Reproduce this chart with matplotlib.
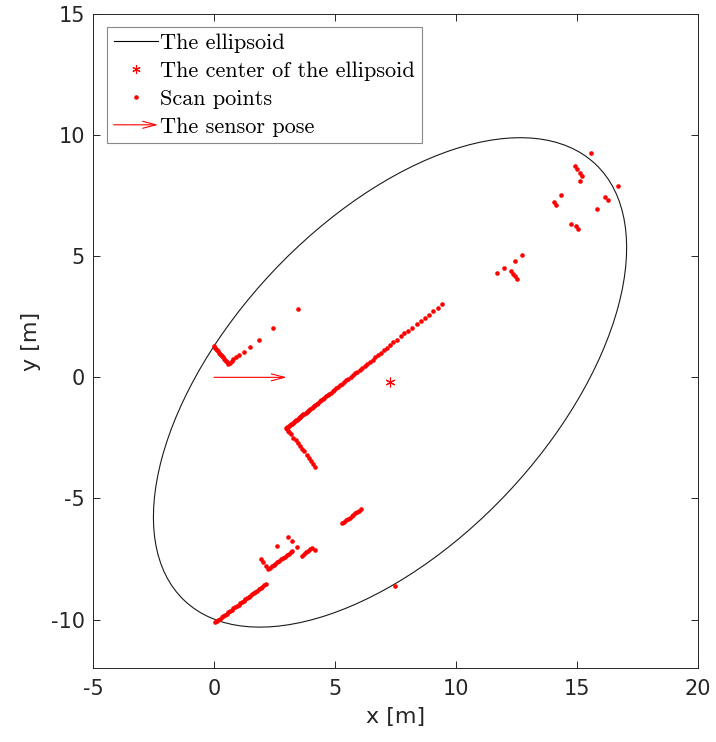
import numpy as np
import matplotlib
matplotlib.use("Agg")
import matplotlib.pyplot as plt
from matplotlib.patches import Ellipse, FancyArrowPatch
from matplotlib.lines import Line2D
from matplotlib.legend_handler import HandlerPatch

plt.rcParams["axes.unicode_minus"] = False

# sensor pose (x, y, heading in deg) and length of the drawn arrow
sensor_pose = (0.0, 0.0, 0.0)
arrow_len = 3.0

# fitted ellipsoid: centre, semi axes, rotation (deg)
ell_center = (7.27, -0.21)
ell_a, ell_b = 12.38, 6.66
ell_angle = 46.7

# scan points, grouped by the object they hit
near_corner = [(0.00, 1.28), (0.04, 1.23), (0.08, 1.18), (0.12, 1.13), (0.17, 1.07),
               (0.21, 1.02), (0.25, 0.97), (0.29, 0.92), (0.33, 0.87), (0.37, 0.82),
               (0.41, 0.77), (0.46, 0.72), (0.50, 0.67), (0.54, 0.62), (0.58, 0.57),
               (0.64, 0.61), (0.72, 0.68), (0.80, 0.74), (0.90, 0.82), (1.03, 0.92),
               (1.22, 1.06), (1.47, 1.26), (1.85, 1.55), (2.45, 2.03), (3.47, 2.83)]

long_wall = [(2.98, -2.09), (3.01, -2.07), (3.05, -2.04), (3.09, -2.00), (3.13, -1.97),
             (3.17, -1.94), (3.21, -1.91), (3.25, -1.88), (3.29, -1.85), (3.33, -1.81),
             (3.37, -1.78), (3.41, -1.75), (3.45, -1.72), (3.49, -1.69), (3.53, -1.65),
             (3.57, -1.62), (3.61, -1.59), (3.65, -1.56), (3.69, -1.53), (3.73, -1.50),
             (3.78, -1.46), (3.83, -1.42), (3.88, -1.38), (3.93, -1.34), (3.98, -1.30),
             (4.03, -1.26), (4.08, -1.22), (4.13, -1.18), (4.19, -1.13), (4.25, -1.09),
             (4.31, -1.04), (4.37, -0.99), (4.43, -0.94), (4.49, -0.90), (4.55, -0.85),
             (4.62, -0.79), (4.69, -0.74), (4.76, -0.68), (4.83, -0.63), (4.90, -0.57),
             (4.97, -0.52), (5.05, -0.45), (5.13, -0.39), (5.21, -0.33), (5.29, -0.26),
             (5.37, -0.20), (5.46, -0.13), (5.55, -0.06), (5.64, 0.01), (5.73, 0.09),
             (5.82, 0.16), (5.92, 0.24), (6.02, 0.31), (6.12, 0.39), (6.22, 0.47),
             (6.33, 0.56), (6.44, 0.65), (6.55, 0.73), (6.66, 0.82), (6.78, 0.92),
             (6.90, 1.01), (7.02, 1.11), (7.14, 1.22), (7.27, 1.33), (7.41, 1.45),
             (7.55, 1.56), (7.71, 1.69), (7.86, 1.81), (8.03, 1.93), (8.19, 2.05),
             (8.38, 2.19), (8.54, 2.32), (8.71, 2.45), (8.88, 2.59), (9.06, 2.73),
             (9.26, 2.87), (9.43, 3.01)]

short_wall = [(3.00, -2.14), (3.05, -2.20), (3.10, -2.25), (3.18, -2.36), (3.28, -2.49),
              (3.38, -2.60), (3.46, -2.71), (3.55, -2.83), (3.65, -2.94), (3.73, -3.05),
              (3.83, -3.19), (3.93, -3.33), (4.01, -3.45), (4.10, -3.59), (4.17, -3.72)]

bottom_wall = [(0.03, -10.12), (0.10, -10.07), (0.17, -10.02), (0.24, -9.96), (0.31, -9.91),
               (0.38, -9.86), (0.45, -9.81), (0.52, -9.75), (0.59, -9.70), (0.66, -9.65),
               (0.73, -9.59), (0.80, -9.54), (0.87, -9.49), (0.94, -9.44), (1.01, -9.38),
               (1.08, -9.33), (1.15, -9.28), (1.22, -9.23), (1.29, -9.17), (1.36, -9.12),
               (1.43, -9.07), (1.50, -9.02), (1.57, -8.96), (1.64, -8.91), (1.71, -8.86),
               (1.78, -8.80), (1.85, -8.75), (1.92, -8.70), (1.99, -8.65), (2.06, -8.59),
               (2.13, -8.55)]

lower_cluster = [(1.93, -7.49), (2.04, -7.64), (2.13, -7.78),
                 (2.22, -7.92), (2.30, -7.86), (2.38, -7.80), (2.46, -7.74), (2.53, -7.69),
                 (2.61, -7.63), (2.69, -7.57), (2.77, -7.51), (2.85, -7.45), (2.93, -7.40),
                 (3.00, -7.34), (3.08, -7.28), (3.16, -7.22), (3.24, -7.16),
                 (2.59, -6.97), (3.05, -6.59), (3.21, -6.75), (3.42, -7.02),
                 (3.62, -7.36), (3.70, -7.29), (3.79, -7.23), (3.87, -7.16), (3.96, -7.10),
                 (4.04, -7.03), (4.17, -7.13)]

middle_segment = [(5.29, -6.03), (5.37, -5.97), (5.44, -5.91), (5.52, -5.85), (5.60, -5.79),
                  (5.68, -5.73), (5.75, -5.68), (5.83, -5.62), (5.91, -5.56), (5.98, -5.50),
                  (6.06, -5.44), (7.48, -8.61)]

right_cluster = [(11.71, 4.30), (11.97, 4.52), (12.42, 4.80), (12.74, 5.07),
                 (12.26, 4.38), (12.34, 4.28), (12.42, 4.18), (12.51, 4.07)]

far_cluster = [(15.57, 9.27), (14.92, 8.71), (15.01, 8.58), (15.10, 8.45), (15.19, 8.33),
               (15.10, 8.09), (16.69, 7.88), (16.17, 7.45), (16.27, 7.31), (14.32, 7.53),
               (14.05, 7.25), (14.14, 7.12), (15.84, 6.96), (14.75, 6.34), (14.95, 6.26),
               (15.03, 6.13)]

scan = np.array(near_corner + long_wall + short_wall + bottom_wall + lower_cluster
                + middle_segment + right_cluster + far_cluster)

arrow_style = "->,head_length=0.95,head_width=0.25"


class HandlerArrow(HandlerPatch):
    def create_artists(self, legend, orig_handle, xdescent, ydescent,
                       width, height, fontsize, trans):
        y = height / 2 - ydescent
        p = FancyArrowPatch((-xdescent, y), (width - xdescent, y),
                            arrowstyle=arrow_style, mutation_scale=10,
                            color="red", lw=0.8, shrinkA=0, shrinkB=0)
        p.set_transform(trans)
        return [p]


fig = plt.figure(figsize=(7.16, 7.42), dpi=100)
ax = fig.add_axes([0.130, 0.0997, 0.845, 0.8815])

ell = Ellipse(ell_center, 2 * ell_a, 2 * ell_b, angle=ell_angle,
              fill=False, edgecolor="#1a1a1a", lw=0.8)
ax.add_patch(ell)

ax.plot(ell_center[0], ell_center[1], linestyle="none", marker=(6, 2, 0),
        markersize=7, color="red", markeredgewidth=0.8)
ax.plot(scan[:, 0], scan[:, 1], linestyle="none", marker="o", markersize=3.3,
        markeredgewidth=0, color="red")

x0, y0, th = sensor_pose
x1 = x0 + arrow_len * np.cos(np.radians(th))
y1 = y0 + arrow_len * np.sin(np.radians(th))
sensor_arrow = FancyArrowPatch((x0, y0), (x1, y1), arrowstyle=arrow_style,
                               mutation_scale=10, color="red", lw=0.8,
                               shrinkA=0, shrinkB=0)
ax.add_patch(sensor_arrow)

ax.set_xlim(-5, 20)
ax.set_ylim(-12, 15)
ax.set_xticks([-5, 0, 5, 10, 15, 20])
ax.set_yticks([-10, -5, 0, 5, 10, 15])

dark = "#262626"
for s in ax.spines.values():
    s.set_color(dark)
    s.set_linewidth(0.7)
ax.tick_params(direction="in", top=True, right=True, length=5, width=0.7,
               colors=dark, labelsize=15)
ax.tick_params(axis="x", pad=8)
ax.tick_params(axis="y", pad=6)
ax.set_xlabel("x [m]", fontsize=16, color=dark, labelpad=6)
ax.set_ylabel("y [m]", fontsize=16, color=dark, labelpad=7)

handles = [Line2D([], [], color="black", lw=0.8),
           Line2D([], [], linestyle="none", marker=(6, 2, 0), markersize=6,
                  color="red", markeredgewidth=0.8),
           Line2D([], [], linestyle="none", marker="o", markersize=3.3,
                  markeredgewidth=0, color="red"),
           FancyArrowPatch((0, 0), (1, 0))]
labels = ["The ellipsoid", "The center of the ellipsoid", "Scan points",
          "The sensor pose"]
leg = ax.legend(handles, labels, loc="upper left", bbox_to_anchor=(0.023, 0.98),
                prop={"family": "cmr10", "size": 16}, handlelength=2.0,
                handletextpad=0.1, labelspacing=0.37, borderpad=0.3,
                borderaxespad=0, fancybox=False, framealpha=1, numpoints=1,
                handler_map={FancyArrowPatch: HandlerArrow()})
leg.get_frame().set_edgecolor("#888888")
leg.get_frame().set_linewidth(0.8)

fig.savefig("out.png", dpi=100)
